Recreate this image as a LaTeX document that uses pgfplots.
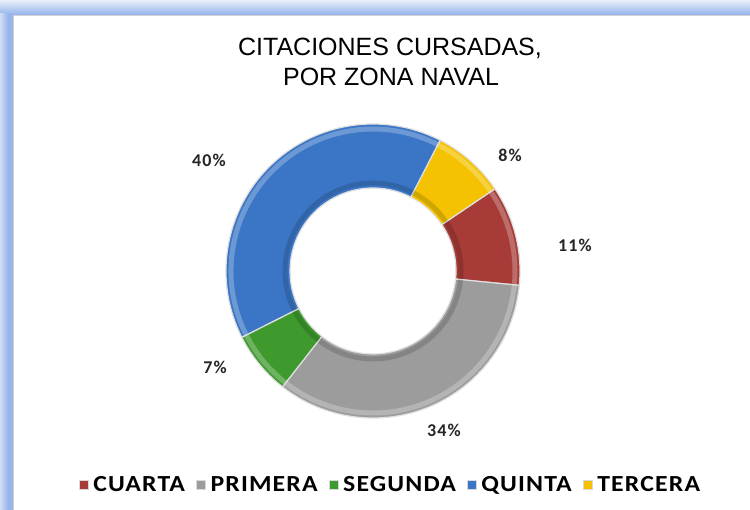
\documentclass[border=0pt]{standalone}
\usepackage{fontspec}
\setmainfont{Liberation Sans}
\newfontfamily\leyfont[FakeStretch=1.12, LetterSpace=5]{Carlito}
\newfontfamily\etqfont[LetterSpace=6]{Carlito}
\usepackage{pgfplots}
\usepackage{pgfplotstable}
\pgfplotsset{compat=1.18}

\definecolor{c0}{HTML}{A63B38}% CUARTA
\definecolor{c1}{HTML}{9C9C9C}% PRIMERA
\definecolor{c2}{HTML}{3E9A2D}% SEGUNDA
\definecolor{c3}{HTML}{3B76C6}% QUINTA
\definecolor{c4}{HTML}{F4C200}% TERCERA
\definecolor{marco}{HTML}{97B5EA}

% porcentaje por zona naval, en el orden de la leyenda
\pgfplotstableread{
zona pct
CUARTA 11
PRIMERA 34
SEGUNDA 7
QUINTA 40
TERCERA 8
}\zonas

\begin{document}
\begin{tikzpicture}
\begin{axis}[
  width=750pt, height=510pt, scale only axis,
  xmin=0, xmax=750, ymin=0, ymax=510,
  hide axis,
  legend columns=5,
  legend style={draw=none, fill=none, at={(axis cs:392,25)}, anchor=center,
    font=\leyfont\bfseries\fontsize{23}{26}\selectfont,
    nodes={inner xsep=5pt, inner ysep=2pt},
    /tikz/every even column/.append style={column sep=6pt}},
  legend image code/.code={\draw[#1, draw=white!70!gray, line width=0.5pt] (0pt,-4.5pt) rectangle (9pt,4.5pt);},
]
% marco
\fill[marco] (axis cs:0,0) rectangle (axis cs:750,510);
\shade[top color=white!80!marco, bottom color=marco] (axis cs:0,496) rectangle (axis cs:750,510);
\shade[left color=white!55!marco, right color=marco] (axis cs:0,0) rectangle (axis cs:8,496);
\fill[gray!35] (axis cs:13,0) rectangle (axis cs:750,495);
\fill[white] (axis cs:14,0) rectangle (axis cs:750,494);

% anillo
\def\acum{34}
\pgfplotsforeachungrouped \i in {0,...,4}{%
  \pgfplotstablegetelem{\i}{pct}\of\zonas
  \pgfmathsetmacro\aA{\acum}
  \pgfmathsetmacro\aB{\acum-3.6*\pgfplotsretval}
  \edef\temp{\noexpand\fill[fill=c\i, draw=white!75!gray, line width=1.2pt]
    ([shift={(\aA:147pt)}]axis cs:373,239) arc[start angle=\aA, end angle=\aB, radius=147pt]
    -- ([shift={(\aB:83pt)}]axis cs:373,239) arc[start angle=\aB, end angle=\aA, radius=83pt] -- cycle;
    \noexpand\draw[white, opacity=0.25, line width=5pt]
    ([shift={(\aA:142pt)}]axis cs:373,239) arc[start angle=\aA, end angle=\aB, radius=142pt];
    \noexpand\draw[black, opacity=0.15, line width=5pt]
    ([shift={(\aA:88pt)}]axis cs:373,239) arc[start angle=\aA, end angle=\aB, radius=88pt];}
  \temp
  \global\let\acum\aB
}

% etiquetas
\begin{scope}[font=\etqfont\bfseries\fontsize{18}{20}\selectfont, text=black!85]
\node at (axis cs:209,350) {40\%};
\node at (axis cs:510,355) {8\%};
\node at (axis cs:575,265) {11\%};
\node at (axis cs:215,143) {7\%};
\node at (axis cs:444,80) {34\%};
\end{scope}

% titulo
\node[font=\fontsize{25}{28}\selectfont] at (axis cs:390,462) {CITACIONES CURSADAS,};
\node[font=\fontsize{25}{28}\selectfont] at (axis cs:391,433) {POR ZONA NAVAL};

\addlegendimage{fill=c0}\addlegendentry{CUARTA}
\addlegendimage{fill=c1}\addlegendentry{PRIMERA}
\addlegendimage{fill=c2}\addlegendentry{SEGUNDA}
\addlegendimage{fill=c3}\addlegendentry{QUINTA}
\addlegendimage{fill=c4}\addlegendentry{TERCERA}
\end{axis}
\end{tikzpicture}
\end{document}
